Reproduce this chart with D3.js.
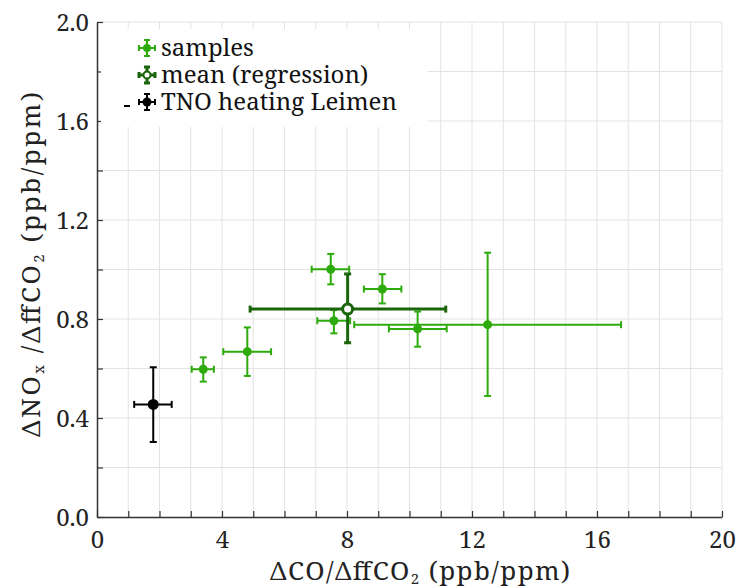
<!DOCTYPE html>
<html lang="en">
<head>
<meta charset="utf-8">
<title>NOx vs CO ratios</title>
<script src="https://cdn.jsdelivr.net/npm/d3@7"></script>
<style>
  body { margin: 0; background: #fff; }
</style>
</head>
<body>
<div id="chart"></div>
<script>
// samples: x, x err low/high, y, y err low/high
var sampleX    = [3.40, 4.81, 7.48, 9.13, 7.58, 10.26, 12.50];
var sampleXLo  = [3.03, 4.04, 6.87, 8.54, 7.05, 9.34, 8.23];
var sampleXHi  = [3.74, 5.57, 8.07, 9.74, 8.10, 11.19, 16.77];
var sampleY    = [0.597, 0.668, 1.001, 0.921, 0.793, 0.760, 0.777];
var sampleYLo  = [0.547, 0.570, 0.940, 0.863, 0.742, 0.688, 0.489];
var sampleYHi  = [0.645, 0.766, 1.063, 0.981, 0.836, 0.830, 1.068];

var meanPt = {x: 8.02, xlo: 4.90, xhi: 11.16, y: 0.840, ylo: 0.704, yhi: 0.982};
var tnoPt  = {x: 1.80, xlo: 1.19, xhi: 2.39, y: 0.455, ylo: 0.303, yhi: 0.605};

var xTicks = [0, 4, 8, 12, 16, 20];
var yTicks = [0, 0.4, 0.8, 1.2, 1.6, 2.0];
var legendLabels = ["samples", "mean (regression)", "TNO heating Leimen"];

var green = "#2eab0c", darkGreen = "#1b650a", black = "#000";
var serif = "'Noto Serif'";

var W = 739, H = 588;
var m = {left: 97, right: 17, top: 22, bottom: 71};

var svg = d3.select("#chart").append("svg")
  .attr("width", W).attr("height", H);

var x = d3.scaleLinear().domain([0, 20]).range([m.left, W - m.right]);
var y = d3.scaleLinear().domain([0, 2]).range([H - m.bottom, m.top]);

// grid
svg.append("g").selectAll("line")
  .data(d3.range(1, 21))
  .enter().append("line")
  .attr("x1", d => x(d)).attr("x2", d => x(d))
  .attr("y1", y(0)).attr("y2", y(2))
  .attr("stroke", "#e3e3e3").attr("stroke-width", 1);
svg.append("g").selectAll("line")
  .data(d3.range(1, 11).map(d => d * 0.2))
  .enter().append("line")
  .attr("x1", x(0)).attr("x2", x(20))
  .attr("y1", d => y(d)).attr("y2", d => y(d))
  .attr("stroke", "#e3e3e3").attr("stroke-width", 1);

// axes
var xAxis = svg.append("g").attr("transform", "translate(0," + y(0) + ")")
  .call(d3.axisBottom(x).tickValues(d3.range(0, 21)).tickSize(-6).tickSizeOuter(0)
    .tickFormat(d => xTicks.indexOf(d) >= 0 ? d : ""));
var yAxis = svg.append("g").attr("transform", "translate(" + x(0) + ",0)")
  .call(d3.axisLeft(y).tickValues(d3.range(0, 11).map(d => d * 0.2)).tickSize(-6).tickSizeOuter(0)
    .tickFormat(d => yTicks.some(t => Math.abs(t - d) < 1e-6) ? d3.format(".1f")(d) : ""));
[xAxis, yAxis].forEach(function(a) {
  a.attr("font-family", null).attr("font-size", null);
  a.select(".domain").attr("stroke", "#333").attr("stroke-width", 1.5);
  a.selectAll(".tick line").attr("stroke", "#333").attr("stroke-width", 1.2);
  a.selectAll(".tick text").style("font-size", "24px").style("font-family", serif).attr("fill", "#222");
});
xAxis.selectAll(".tick text").attr("dy", null).attr("y", 31);
yAxis.selectAll(".tick text").attr("x", -8).attr("dy", "0.36em");

// axis titles
var xt = svg.append("text").attr("x", 420).attr("y", 580).attr("fill", "#222")
  .attr("text-anchor", "middle").style("font-size", "26px").style("font-family", serif)
  .attr("textLength", 300).attr("lengthAdjust", "spacing");
xt.append("tspan").text("\u0394CO/\u0394ffCO");
xt.append("tspan").attr("dy", 4).style("font-size", "15px").text("2");
xt.append("tspan").attr("dy", -4).text(" (ppb/ppm)");

var yt = svg.append("text").attr("transform", "translate(40," + y(1.02) + ") rotate(-90)").attr("fill", "#222")
  .attr("text-anchor", "middle").style("font-size", "26px").style("font-family", serif)
  .attr("textLength", 345).attr("lengthAdjust", "spacing");
yt.append("tspan").text("\u0394NO");
yt.append("tspan").attr("dy", 4).style("font-size", "15px").text("x");
yt.append("tspan").attr("dy", -4).text(" /\u0394ffCO");
yt.append("tspan").attr("dy", 4).style("font-size", "15px").text("2");
yt.append("tspan").attr("dy", -4).text(" (ppb/ppm)");

// error bar drawing
function errbar(g, p, col, lw, cap) {
  g.append("line").attr("x1", x(p.xlo)).attr("x2", x(p.xhi)).attr("y1", y(p.y)).attr("y2", y(p.y))
    .attr("stroke", col).attr("stroke-width", lw);
  g.append("line").attr("x1", x(p.x)).attr("x2", x(p.x)).attr("y1", y(p.ylo)).attr("y2", y(p.yhi))
    .attr("stroke", col).attr("stroke-width", lw);
  [p.xlo, p.xhi].forEach(function(v) {
    g.append("line").attr("x1", x(v)).attr("x2", x(v)).attr("y1", y(p.y) - cap).attr("y2", y(p.y) + cap)
      .attr("stroke", col).attr("stroke-width", lw);
  });
  [p.ylo, p.yhi].forEach(function(v) {
    g.append("line").attr("x1", x(p.x) - cap).attr("x2", x(p.x) + cap).attr("y1", y(v)).attr("y2", y(v))
      .attr("stroke", col).attr("stroke-width", lw);
  });
}

var plot = svg.append("g");
sampleX.forEach(function(v, i) {
  var p = {x: v, xlo: sampleXLo[i], xhi: sampleXHi[i], y: sampleY[i], ylo: sampleYLo[i], yhi: sampleYHi[i]};
  errbar(plot, p, green, 2, 3.5);
});
plot.selectAll("circle.s").data(sampleX).enter().append("circle").attr("class", "s")
  .attr("cx", d => x(d)).attr("cy", (d, i) => y(sampleY[i])).attr("r", 4.5).attr("fill", green);

errbar(plot, meanPt, darkGreen, 3, 3.5);
plot.append("circle").attr("cx", x(meanPt.x)).attr("cy", y(meanPt.y)).attr("r", 5)
  .attr("fill", "#fff").attr("stroke", darkGreen).attr("stroke-width", 3);

errbar(plot, tnoPt, black, 2, 3.5);
plot.append("circle").attr("cx", x(tnoPt.x)).attr("cy", y(tnoPt.y)).attr("r", 5.5).attr("fill", black);

// legend
var lg = svg.append("g");
lg.append("rect").attr("x", 101).attr("y", 29).attr("width", 327).attr("height", 98).attr("fill", "#fff");
var rowY = [48, 75, 102], symX = 147;
var lcols = [green, darkGreen, black], lw = [2, 3, 2];
legendLabels.forEach(function(t, i) {
  var cy = rowY[i], c = lcols[i];
  lg.append("line").attr("x1", symX - 8).attr("x2", symX + 8).attr("y1", cy).attr("y2", cy).attr("stroke", c).attr("stroke-width", lw[i]);
  lg.append("line").attr("x1", symX).attr("x2", symX).attr("y1", cy - 8).attr("y2", cy + 8).attr("stroke", c).attr("stroke-width", lw[i]);
  [-8, 8].forEach(function(o) {
    lg.append("line").attr("x1", symX + o).attr("x2", symX + o).attr("y1", cy - 3).attr("y2", cy + 3).attr("stroke", c).attr("stroke-width", lw[i]);
    lg.append("line").attr("x1", symX - 3).attr("x2", symX + 3).attr("y1", cy + o).attr("y2", cy + o).attr("stroke", c).attr("stroke-width", lw[i]);
  });
  if (i === 1) {
    lg.append("circle").attr("cx", symX).attr("cy", cy).attr("r", 3.5).attr("fill", "#fff").attr("stroke", c).attr("stroke-width", 2);
  } else {
    lg.append("circle").attr("cx", symX).attr("cy", cy).attr("r", i === 2 ? 4.5 : 4).attr("fill", c);
  }
  lg.append("text").attr("x", 161).attr("y", cy).attr("dy", "0.33em").attr("fill", "#111")
    .style("font-size", "24px").style("font-family", serif).text(t);
});
lg.append("line").attr("x1", 124).attr("x2", 130).attr("y1", 106).attr("y2", 106).attr("stroke", black).attr("stroke-width", 2);
</script>
</body>
</html>
